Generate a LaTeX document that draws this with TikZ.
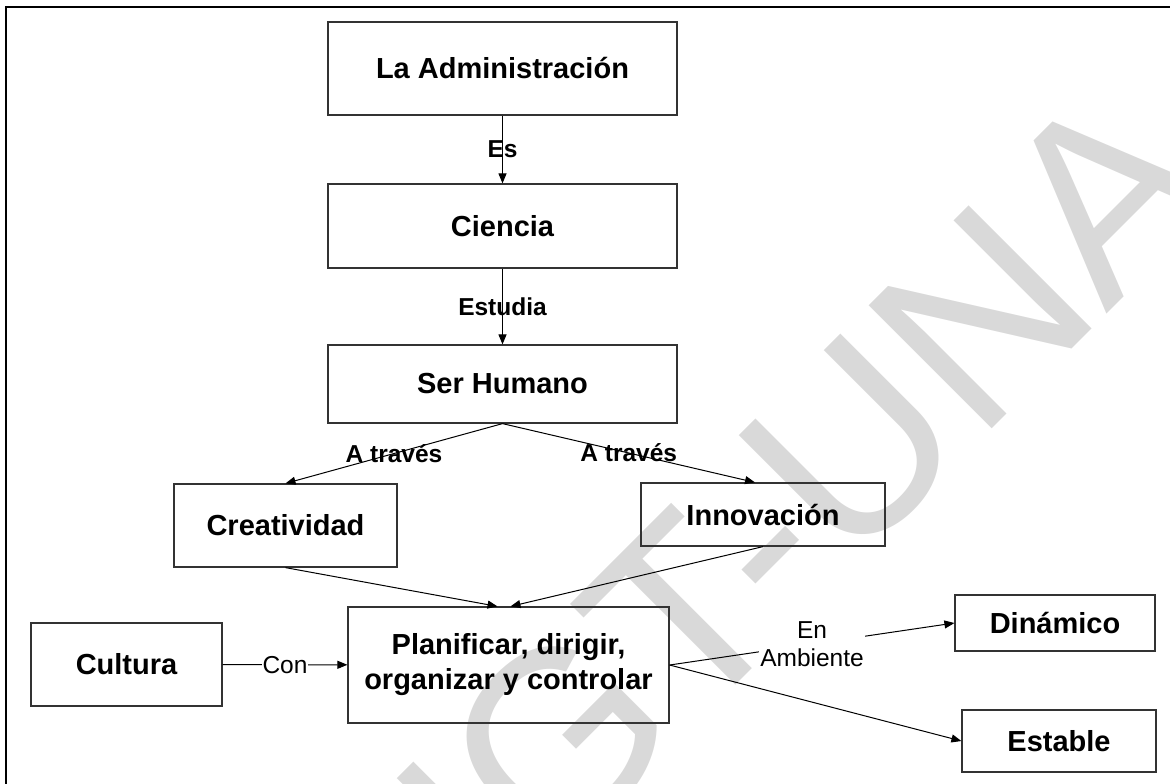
\documentclass[tikz,border=0pt]{standalone}
\usepackage{fontspec}
\setmainfont{Liberation Sans}
\usepackage{tikz}
\usetikzlibrary{arrows.meta,positioning}

\begin{document}
\begin{tikzpicture}[x=0.5pt,y=-0.5pt,>={Triangle[length=5pt,width=4pt]},->,line width=0.5pt]
\tikzstyle{caja} = [rectangle, draw=black!80, line width=0.6pt, inner sep=0pt, align=center, font=\fontsize{14.5}{17.5}\selectfont\bfseries]
\tikzstyle{etiqueta} = [font=\fontsize{12.25}{14}\selectfont\bfseries, inner sep=1pt]
\tikzstyle{enlace} = [font=\fontsize{12.25}{14}\selectfont, fill=white, inner sep=0.5pt, align=center]
\useasboundingbox (0,0) rectangle (1170,783);
% marca de agua
\node[rotate=45, text=black!15, inner sep=0pt, font=\fontsize{126.5}{126.5}\selectfont] (marca) at (762,536) {UGT-UNA};
\draw[-, line width=1pt] (6,800) -- (6,7) -- (1180,7);
\node[caja, minimum width=174.5pt, minimum height=46.5pt] (admin) at (502.5,68.5) {La Administración};
\node[caja, minimum width=174.5pt, minimum height=42pt] (ciencia) at (502.5,226) {Ciencia};
\node[caja, minimum width=174.5pt, minimum height=39pt] (ser) at (502.5,384) {Ser Humano};
\node[caja, minimum width=111.5pt, minimum height=41.5pt] (crea) at (285.5,525.5) {Creatividad};
\node[caja, minimum width=122pt, minimum height=31.5pt] (inno) at (763,514.5) {Innovación};
\node[caja, minimum width=160.5pt, minimum height=58pt] (plan) at (508.5,665) {Planificar, dirigir,\\organizar y controlar};
\node[caja, minimum width=95.5pt, minimum height=41.5pt] (cult) at (126.5,664.5) {Cultura};
\node[caja, minimum width=100pt, minimum height=28pt] (dina) at (1055,623) {Dinámico};
\node[caja, minimum width=97pt, minimum height=31pt] (esta) at (1059,741) {Estable};
\path (admin) edge node[etiqueta]{Es} (ciencia)
      (ciencia) edge node[etiqueta]{Estudia} (ser)
      (ser.south) edge node[etiqueta]{A través} (crea.north)
      (ser.south) edge node[etiqueta]{A través} ([xshift=-4pt]inno.north)
      (crea.south) edge ([xshift=-5.5pt]plan.north)
      (inno.south) edge ([xshift=1pt]plan.north)
      (cult) edge node[enlace]{Con} (plan)
      (plan.east) edge node[enlace]{En\\Ambiente} (dina.west)
      (plan.east) edge (esta.west);
\end{tikzpicture}
\end{document}
